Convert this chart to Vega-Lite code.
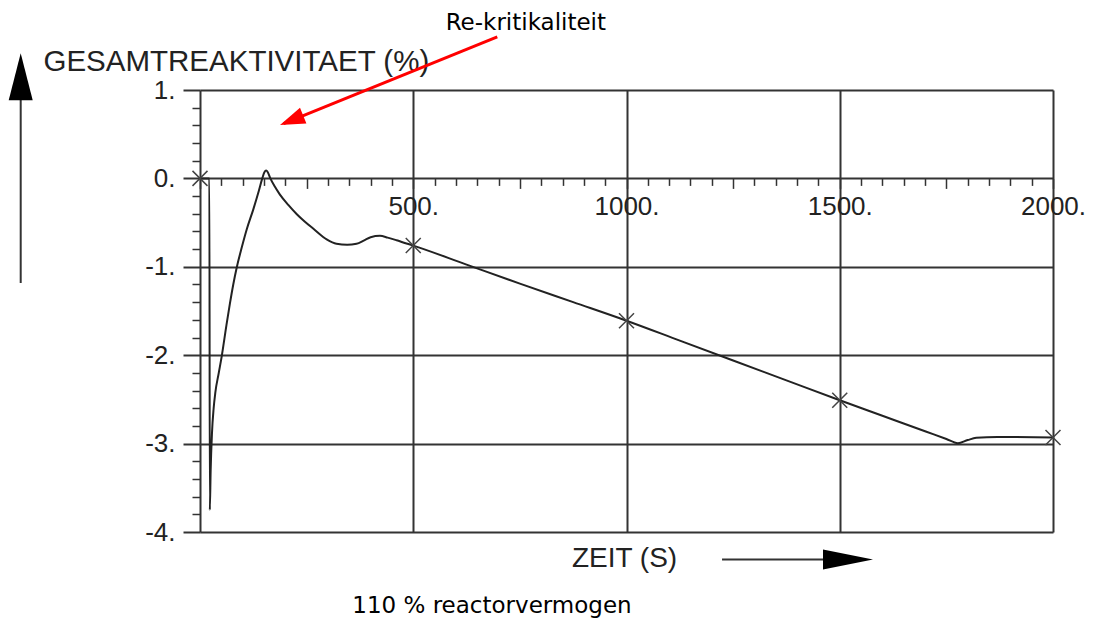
{
  "$schema": "https://vega.github.io/schema/vega-lite/v6.json",
  "width": 853,
  "height": 442,
  "autosize": {"type": "none"},
  "padding": {"left": 200, "top": 90, "right": 50, "bottom": 89},
  "background": "white",
  "config": {"view": {"stroke": null}},
  "datasets": {
    "curve": [
      {"t": 0, "r": 0}, {"t": 22, "r": 0}, {"t": 23, "r": -3.75}, {"t": 25, "r": -3.3},
      {"t": 28, "r": -2.89}, {"t": 32, "r": -2.6}, {"t": 36, "r": -2.42}, {"t": 44, "r": -2.2},
      {"t": 51, "r": -2.01}, {"t": 62, "r": -1.66}, {"t": 70, "r": -1.42}, {"t": 78, "r": -1.2},
      {"t": 86, "r": -1.01}, {"t": 98, "r": -0.78}, {"t": 110, "r": -0.57}, {"t": 125, "r": -0.35},
      {"t": 138, "r": -0.14}, {"t": 146, "r": 0.0}, {"t": 151, "r": 0.07}, {"t": 155, "r": 0.09},
      {"t": 159, "r": 0.07}, {"t": 165, "r": 0.0}, {"t": 175, "r": -0.09},
      {"t": 187, "r": -0.18}, {"t": 207, "r": -0.3}, {"t": 227, "r": -0.405}, {"t": 246, "r": -0.49},
      {"t": 266, "r": -0.57}, {"t": 297, "r": -0.69}, {"t": 320, "r": -0.74}, {"t": 345, "r": -0.75},
      {"t": 367, "r": -0.74}, {"t": 385, "r": -0.7}, {"t": 400, "r": -0.665}, {"t": 422, "r": -0.65},
      {"t": 440, "r": -0.67}, {"t": 461, "r": -0.7}, {"t": 480, "r": -0.73}, {"t": 500, "r": -0.76},
      {"t": 625, "r": -0.975}, {"t": 750, "r": -1.19}, {"t": 875, "r": -1.4}, {"t": 1000, "r": -1.61},
      {"t": 1125, "r": -1.835}, {"t": 1250, "r": -2.06}, {"t": 1375, "r": -2.285}, {"t": 1500, "r": -2.51},
      {"t": 1600, "r": -2.685}, {"t": 1700, "r": -2.86}, {"t": 1750, "r": -2.948},
      {"t": 1777, "r": -2.995}, {"t": 1800, "r": -2.96}, {"t": 1820, "r": -2.935}, {"t": 1870, "r": -2.925},
      {"t": 2000, "r": -2.93}
    ],
    "markers": [
      {"t": 0, "r": 0}, {"t": 500, "r": -0.76}, {"t": 1000, "r": -1.61}, {"t": 1500, "r": -2.51}, {"t": 2000, "r": -2.93}
    ]
  },
  "resolve": {"axis": {"x": "independent", "y": "independent"}},
  "layer": [
    {
      "data": {"name": "curve"},
      "mark": {"type": "line", "color": "#222222", "strokeWidth": 2, "interpolate": "monotone"},
      "encoding": {
        "x": {
          "field": "t", "type": "quantitative",
          "scale": {"domain": [0, 2000], "nice": false, "zero": false},
          "axis": {
            "orient": "bottom", "offset": -353.6,
            "values": [0,50,100,150,200,250,300,350,400,450,500,550,600,650,700,750,800,850,900,950,1000,1050,1100,1150,1200,1250,1300,1350,1400,1450,1500,1550,1600,1650,1700,1750,1800,1850,1900,1950,2000],
            "domain": false,
            "grid": true, "gridColor": "#333333", "gridWidth": 2,
            "gridOpacity": {"condition": {"test": "datum.value % 500 == 0", "value": 1}, "value": 0},
            "ticks": true, "tickColor": "#333333", "tickWidth": 1.5,
            "tickSize": {"condition": {"test": "datum.value % 250 == 0", "value": 10}, "value": 7},
            "labelExpr": "datum.value % 500 == 0 && datum.value > 0 ? datum.value + '.' : ''",
            "labelFont": "Liberation Sans", "labelFontSize": 26, "labelColor": "#222222",
            "labelPadding": 5, "labelFlush": false, "labelOverlap": false, "labelBound": false,
            "title": "ZEIT (S)", "titleX": 424, "titleY": 380, "titleAlign": "center", "titleBaseline": "middle",
            "titleFont": "Liberation Sans", "titleFontSize": 28, "titleFontWeight": "normal", "titleColor": "#222222"
          }
        },
        "y": {
          "field": "r", "type": "quantitative",
          "scale": {"domain": [-4, 1], "nice": false, "zero": false},
          "axis": {
            "orient": "left",
            "values": [-4, -3, -2, -1, 0, 1],
            "domain": false,
            "grid": true, "gridColor": "#333333", "gridWidth": 2,
            "ticks": true, "tickSize": 17, "tickColor": "#333333", "tickWidth": 2,
            "labelExpr": "datum.value + '.'",
            "labelFont": "Liberation Sans", "labelFontSize": 26, "labelColor": "#222222",
            "labelPadding": 8, "labelBaseline": "middle", "labelOverlap": false, "labelBound": false, "labelFlush": false,
            "title": "GESAMTREAKTIVITAET (%)", "titleAngle": 0, "titleAlign": "left", "titleBaseline": "alphabetic",
            "titleX": -157, "titleY": -19.5,
            "titleFont": "Liberation Sans", "titleFontSize": 29.5, "titleFontWeight": "normal", "titleColor": "#222222"
          }
        }
      }
    },
    {
      "data": {"name": "markers"},
      "mark": {"type": "point", "shape": "M-1,-1L1,1M-1,1L1,-1", "filled": false, "stroke": "#444444", "strokeWidth": 1.5, "size": 225, "opacity": 1},
      "encoding": {
        "x": {"field": "t", "type": "quantitative", "axis": null},
        "y": {
          "field": "r", "type": "quantitative",
          "axis": {
            "orient": "left",
            "values": [-3.8,-3.6,-3.4,-3.2,-2.8,-2.6,-2.4,-2.2,-1.8,-1.6,-1.4,-1.2,-0.8,-0.6,-0.4,-0.2,0.2,0.4,0.6,0.8],
            "domain": false, "grid": false, "labels": false, "title": null,
            "ticks": true, "tickSize": 8, "tickColor": "#333333", "tickWidth": 1.5
          }
        }
      }
    },
    {
      "data": {"values": [{"x1": 697, "y1": 1.6, "x2": 196, "y2": 0.62}]},
      "mark": {"type": "rule", "color": "#ff0000", "strokeWidth": 3},
      "encoding": {
        "x": {"field": "x1", "type": "quantitative", "axis": null},
        "y": {"field": "y1", "type": "quantitative", "axis": null},
        "x2": {"field": "x2"},
        "y2": {"field": "y2"}
      }
    },
    {
      "data": {"values": [{"x": 187.6, "y": 0.604}]},
      "mark": {"type": "point", "shape": "M0,0L2.64,-0.15L2.0,-1.73Z", "filled": true, "color": "#ff0000", "size": 400, "opacity": 1},
      "encoding": {
        "x": {"field": "x", "type": "quantitative", "axis": null},
        "y": {"field": "y", "type": "quantitative", "axis": null}
      }
    },
    {
      "data": {"values": [{"x1": -420.4, "y1": -1.183, "x2": -420.4, "y2": 0.9}, {"x1": 1224, "y1": -4.31, "x2": 1470, "y2": -4.31}]},
      "mark": {"type": "rule", "color": "#333333", "strokeWidth": 2},
      "encoding": {
        "x": {"field": "x1", "type": "quantitative", "axis": null},
        "y": {"field": "y1", "type": "quantitative", "axis": null},
        "x2": {"field": "x2"},
        "y2": {"field": "y2"}
      }
    },
    {
      "data": {"values": [{"x": -420.4, "y": 1.415}]},
      "mark": {"type": "point", "shape": "M0,0L1.2,4.7L-1.2,4.7Z", "filled": true, "color": "#000000", "size": 400, "opacity": 1},
      "encoding": {
        "x": {"field": "x", "type": "quantitative", "axis": null},
        "y": {"field": "y", "type": "quantitative", "axis": null}
      }
    },
    {
      "data": {"values": [{"x": 1578, "y": -4.31}]},
      "mark": {"type": "point", "shape": "M0,0L-5,-1L-5,1Z", "filled": true, "color": "#000000", "size": 400, "opacity": 1},
      "encoding": {
        "x": {"field": "x", "type": "quantitative", "axis": null},
        "y": {"field": "y", "type": "quantitative", "axis": null}
      }
    },
    {
      "data": {"values": [{"x": 764, "y": 1.679, "label": "Re-kritikaliteit"}, {"x": 684.6, "y": -4.916, "label": "110 % reactorvermogen"}]},
      "mark": {"type": "text", "font": "DejaVu Sans", "fontSize": 23, "color": "#000000", "align": "center", "baseline": "alphabetic"},
      "encoding": {
        "x": {"field": "x", "type": "quantitative", "axis": null},
        "y": {"field": "y", "type": "quantitative", "axis": null},
        "text": {"field": "label"}
      }
    }
  ]
}
